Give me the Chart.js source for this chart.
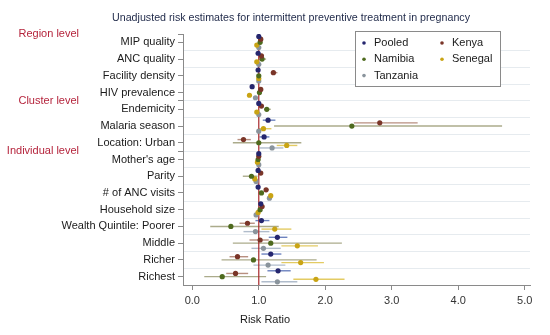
<!DOCTYPE html>
<html lang="en">
<head>
    <meta charset="UTF-8">
    <title>Unadjusted risk estimates for IPTp</title>
    <script src="https://cdn.jsdelivr.net/npm/chart.js"></script>
    <style>
        body {
            margin: 0;
            background: #fff;
        }
    </style>
</head>
<body>
    <canvas id="forestChart" width="550" height="335"></canvas>

    <script>
        // Rows of the forest plot, top to bottom
        const categories = ['MIP quality', 'ANC quality', 'Facility density', 'HIV prevalence', 'Endemicity',
            'Malaria season', 'Location: Urban', "Mother's age", 'Parity', '# of ANC visits', 'Household size',
            'Wealth Quintile: Poorer', 'Middle', 'Richer', 'Richest'];

        // Group headings and the first row that belongs to each
        const groupNames = ['Region level', 'Cluster level', 'Individual level'];
        const groupFirstRow = ['MIP quality', 'Endemicity', "Mother's age"];

        const seriesNames = ['Pooled', 'Kenya', 'Namibia', 'Senegal', 'Tanzania'];

        const pooledRR = [1.00, 0.99, 0.99, 0.90, 1.00, 1.14, 1.08, 1.00, 0.99, 0.99, 1.03, 1.04, 1.28, 1.18, 1.29];
        const pooledLo = [0.98, 0.97, 0.97, 0.88, 0.98, 1.06, 1.01, 0.99, 0.97, 0.97, 1.01, 0.95, 1.15, 1.04, 1.13];
        const pooledHi = [1.02, 1.01, 1.01, 0.92, 1.02, 1.25, 1.16, 1.01, 1.01, 1.01, 1.05, 1.16, 1.43, 1.34, 1.48];

        const kenyaRR = [1.03, 1.04, 1.22, 1.03, 1.04, 2.82, 0.77, 1.00, 1.03, 1.11, 1.05, 0.83, 1.02, 0.68, 0.65];
        const kenyaLo = [1.01, 1.01, 1.18, 1.01, 1.01, 2.43, 0.68, 0.98, 1.00, 1.08, 1.02, 0.71, 0.86, 0.56, 0.51];
        const kenyaHi = [1.05, 1.07, 1.28, 1.05, 1.07, 3.39, 0.88, 1.02, 1.06, 1.15, 1.08, 0.94, 1.15, 0.84, 0.84];

        const namibiaRR = [1.02, 1.05, 1.00, 1.01, 1.12, 2.40, 1.00, 0.99, 0.89, 1.04, 1.02, 0.58, 1.18, 0.92, 0.45];
        const namibiaLo = [0.99, 1.00, 0.98, 0.99, 1.08, 1.23, 0.61, 0.97, 0.76, 1.00, 0.99, 0.27, 0.61, 0.44, 0.18];
        const namibiaHi = [1.05, 1.11, 1.02, 1.03, 1.18, 4.66, 1.64, 1.01, 0.98, 1.08, 1.05, 1.30, 2.25, 1.87, 1.11];

        const senegalRR = [0.97, 0.97, 1.00, 0.86, 0.97, 1.07, 1.42, 0.98, 0.94, 1.18, 0.99, 1.24, 1.58, 1.63, 1.86];
        const senegalLo = [0.95, 0.95, 0.98, 0.83, 0.95, 0.99, 1.27, 0.96, 0.91, 1.15, 0.97, 1.04, 1.34, 1.34, 1.52];
        const senegalHi = [0.99, 0.99, 1.02, 0.89, 0.99, 1.19, 1.58, 1.00, 0.97, 1.21, 1.01, 1.49, 1.89, 1.98, 2.29];

        const tanzaniaRR = [1.00, 1.00, 1.00, 0.95, 1.00, 1.00, 1.20, 1.00, 0.96, 1.16, 0.96, 0.95, 1.07, 1.14, 1.28];
        const tanzaniaLo = [0.98, 0.98, 0.98, 0.93, 0.98, 0.97, 1.01, 0.98, 0.94, 1.13, 0.94, 0.77, 0.89, 0.92, 1.04];
        const tanzaniaHi = [1.02, 1.02, 1.02, 0.97, 1.02, 1.03, 1.37, 1.02, 0.98, 1.19, 0.98, 1.16, 1.33, 1.40, 1.58];

        const xTicks = [0, 1, 2, 3, 4, 5];

        // styling
        const dotColors = ['#25266e', '#7a3528', '#4e6a1e', '#c9a414', '#8a949c'];
        const ciColors = ['rgba(60,90,170,0.75)', 'rgba(160,105,85,0.75)', 'rgba(150,150,110,0.8)',
            'rgba(220,190,60,0.8)', 'rgba(150,165,185,0.75)'];
        const rowOffsets = [-0.35, -0.19, 0, 0.16, 0.31];

        const estimates = [pooledRR, kenyaRR, namibiaRR, senegalRR, tanzaniaRR];
        const lowers = [pooledLo, kenyaLo, namibiaLo, senegalLo, tanzaniaLo];
        const uppers = [pooledHi, kenyaHi, namibiaHi, senegalHi, tanzaniaHi];

        const datasets = seriesNames.map((name, s) => ({
            label: name,
            data: estimates[s].map((v, i) => ({ x: v, y: i + rowOffsets[s] })),
            lo: lowers[s],
            hi: uppers[s],
            ciColor: ciColors[s],
            offset: rowOffsets[s],
            backgroundColor: dotColors[s],
            borderWidth: 0,
            pointRadius: 2.6
        }));

        Chart.defaults.font.family = '"Liberation Sans", Arial, sans-serif';
        Chart.defaults.font.size = 11;
        Chart.defaults.color = '#1a1a1a';

        const extras = {
            id: 'extras',
            beforeDatasetsDraw(chart) {
                const { ctx, scales: { x, y }, chartArea } = chart;
                ctx.save();
                // confidence intervals
                chart.data.datasets.forEach(ds => {
                    ctx.strokeStyle = ds.ciColor;
                    ctx.lineWidth = 1.4;
                    ds.lo.forEach((lo, i) => {
                        const py = y.getPixelForValue(i + ds.offset);
                        ctx.beginPath();
                        ctx.moveTo(x.getPixelForValue(lo), py);
                        ctx.lineTo(x.getPixelForValue(ds.hi[i]), py);
                        ctx.stroke();
                    });
                });
                // reference line at 1
                const px = x.getPixelForValue(1);
                ctx.strokeStyle = '#a8282a';
                ctx.lineWidth = 1.2;
                ctx.beginPath();
                ctx.moveTo(px, chartArea.top);
                ctx.lineTo(px, chartArea.bottom);
                ctx.stroke();
                ctx.restore();
            },
            afterDraw(chart) {
                const { ctx, scales: { x, y } } = chart;
                ctx.save();
                // title
                ctx.fillStyle = '#1e2848';
                ctx.font = '11.5px "Liberation Sans", Arial, sans-serif';
                ctx.textAlign = 'center';
                ctx.textBaseline = 'middle';
                ctx.fillText('Unadjusted risk estimates for intermittent preventive treatment in pregnancy', 291, 18, 358);

                // axis title
                ctx.fillStyle = '#1a1a1a';
                ctx.font = '11px "Liberation Sans", Arial, sans-serif';
                ctx.fillText('Risk Ratio', 265, 320);

                // group headings
                ctx.fillStyle = '#b5243c';
                ctx.textAlign = 'right';
                groupNames.forEach((g, k) => {
                    const row = categories.indexOf(groupFirstRow[k]) - 0.5;
                    ctx.fillText(g, 79, y.getPixelForValue(row));
                });

                // legend box
                const bx = 355, by = 31, bw = 145, bh = 55;
                ctx.fillStyle = '#fff';
                ctx.fillRect(bx, by, bw, bh);
                ctx.strokeStyle = '#8a8a8a';
                ctx.lineWidth = 1;
                ctx.strokeRect(bx + 0.5, by + 0.5, bw, bh);
                ctx.textAlign = 'left';
                chart.data.datasets.forEach((ds, s) => {
                    const col = s % 2, row = Math.floor(s / 2);
                    const cx = bx + 9 + col * 78;
                    const cy = by + 12 + row * 16.3;
                    ctx.fillStyle = ds.backgroundColor;
                    ctx.beginPath();
                    ctx.arc(cx, cy, 1.8, 0, Math.PI * 2);
                    ctx.fill();
                    ctx.fillStyle = '#1a1a1a';
                    ctx.fillText(ds.label, cx + 10, cy);
                });
                ctx.restore();
            }
        };

        const isGroupLine = v => groupFirstRow.some(g => categories.indexOf(g) - 0.5 === v);

        new Chart(document.getElementById('forestChart').getContext('2d'), {
            type: 'scatter',
            data: { datasets: datasets },
            options: {
                responsive: false,
                animation: false,
                layout: { padding: { top: 34, right: 20, left: 0, bottom: 0 } },
                plugins: {
                    legend: { display: false },
                    tooltip: { enabled: false }
                },
                scales: {
                    x: {
                        type: 'linear',
                        min: -0.14,
                        max: 5.08,
                        afterBuildTicks: s => { s.ticks = xTicks.map(v => ({ value: v })); },
                        afterFit: s => { s.height = 50; },
                        ticks: {
                            callback: v => v.toFixed(1),
                            color: '#333',
                            padding: 4
                        },
                        grid: { drawOnChartArea: false, tickLength: 5, color: '#8a8a8a' },
                        border: { color: '#8a8a8a' }
                    },
                    y: {
                        type: 'linear',
                        reverse: true,
                        min: -0.5,
                        max: 14.5,
                        afterBuildTicks: s => {
                            const t = [];
                            for (let k = 0; k <= 30; k++) t.push({ value: -0.5 + k * 0.5 });
                            s.ticks = t;
                        },
                        afterFit: s => { s.width = 183; },
                        ticks: {
                            autoSkip: false,
                            padding: 3,
                            callback: v => Number.isInteger(v) ? categories[v] : ''
                        },
                        grid: {
                            tickLength: 5,
                            color: c => {
                                const v = c.tick.value;
                                return (!Number.isInteger(v) && v > -0.5 && v < 14.5) ? '#e6ebef' : 'rgba(0,0,0,0)';
                            },
                            tickColor: c => {
                                const v = c.tick.value;
                                return (Number.isInteger(v) || isGroupLine(v)) ? '#8a8a8a' : 'rgba(0,0,0,0)';
                            }
                        },
                        border: { color: '#8a8a8a' }
                    }
                }
            },
            plugins: [extras]
        });
    </script>
</body>
</html>
